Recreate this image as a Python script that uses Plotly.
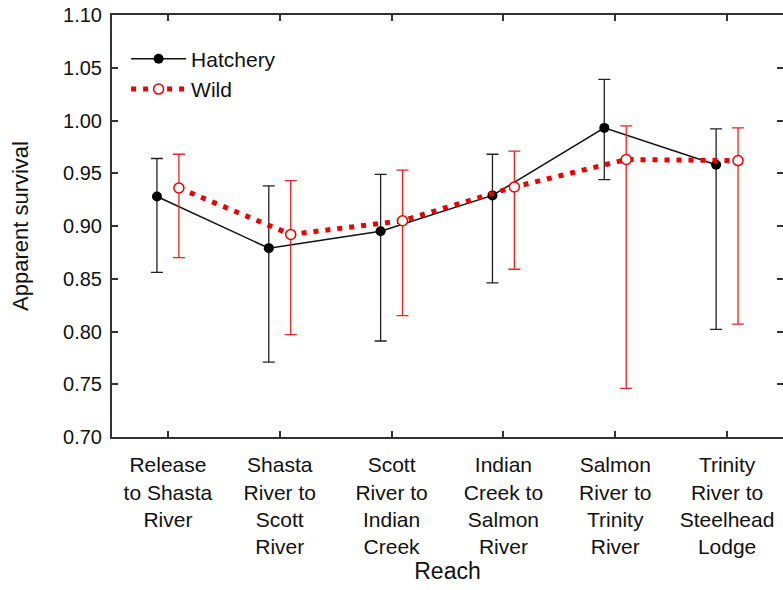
import plotly.graph_objects as go

categories = [
    "Release<br>to Shasta<br>River",
    "Shasta<br>River to<br>Scott<br>River",
    "Scott<br>River to<br>Indian<br>Creek",
    "Indian<br>Creek to<br>Salmon<br>River",
    "Salmon<br>River to<br>Trinity<br>River",
    "Trinity<br>River to<br>Steelhead<br>Lodge",
]

hatchery = [0.928, 0.879, 0.895, 0.929, 0.993, 0.958]
hatchery_upper = [0.964, 0.938, 0.949, 0.968, 1.039, 0.992]
hatchery_lower = [0.856, 0.771, 0.791, 0.846, 0.944, 0.802]

wild = [0.936, 0.892, 0.905, 0.937, 0.963, 0.962]
wild_upper = [0.968, 0.943, 0.953, 0.971, 0.995, 0.993]
wild_lower = [0.870, 0.797, 0.815, 0.859, 0.746, 0.807]

y_ticks = [0.70, 0.75, 0.80, 0.85, 0.90, 0.95, 1.00, 1.05, 1.10]

OFFSET = 0.098
idx = list(range(len(categories)))
x_h = [i - OFFSET for i in idx]
x_w = [i + OFFSET for i in idx]

FONT = "Liberation Sans, Arial, sans-serif"

fig = go.Figure()
fig.add_trace(go.Scatter(
    x=x_h, y=hatchery, name="Hatchery", mode="lines+markers",
    line=dict(color="#111111", width=1.5),
    marker=dict(color="#000000", size=10, symbol="circle"),
    error_y=dict(type="data", symmetric=False,
                 array=[u - v for u, v in zip(hatchery_upper, hatchery)],
                 arrayminus=[v - l for v, l in zip(hatchery, hatchery_lower)],
                 color="#222222", thickness=1.3, width=6),
))
fig.add_trace(go.Scatter(
    x=x_w, y=wild, name="Wild", mode="lines+markers",
    line=dict(color="#ee0000", width=5, dash="5px,7px"),
    marker=dict(color="white", size=10, symbol="circle",
                line=dict(color="#ee0000", width=1.5)),
    error_y=dict(type="data", symmetric=False,
                 array=[u - v for u, v in zip(wild_upper, wild)],
                 arrayminus=[v - l for v, l in zip(wild, wild_lower)],
                 color="#ee2222", thickness=1.3, width=6),
))

fig.update_layout(
    width=783, height=590,
    margin=dict(l=112, r=0, t=15, b=153, autoexpand=False),
    paper_bgcolor="white", plot_bgcolor="white",
    font=dict(family=FONT, size=21, color="#111111"),
    showlegend=True,
    legend=dict(x=0.021, y=0.944, xanchor="left", yanchor="top",
                bgcolor="rgba(0,0,0,0)", font=dict(size=21),
                itemwidth=55, tracegroupgap=0),
)
fig.update_xaxes(
    range=[-0.5, 5.5], tickmode="array", tickvals=idx, ticktext=categories,
    ticks="inside", ticklen=6, tickwidth=1.5, tickcolor="#333333",
    showline=True, linecolor="#333333", linewidth=2, mirror="ticks",
    showgrid=False, zeroline=False, automargin=False,
    tickfont=dict(size=21), ticklabelstandoff=8,
    title=dict(text="Reach", font=dict(size=23), standoff=4),
)
fig.update_yaxes(
    range=[0.70, 1.10], tickmode="array", tickvals=y_ticks,
    ticktext=[f"{v:.2f}" for v in y_ticks],
    ticks="inside", ticklen=6, tickwidth=1.5, tickcolor="#333333",
    showline=True, linecolor="#333333", linewidth=2, mirror="ticks",
    showgrid=False, zeroline=False, automargin=False,
    tickfont=dict(size=20), ticklabelstandoff=4,
    title=dict(text="Apparent survival", font=dict(size=22), standoff=28),
)

fig.write_html(
    "out.html",
    config={"displayModeBar": False},
    post_script="document.body.style.margin='0px';document.body.style.overflow='hidden';",
)
